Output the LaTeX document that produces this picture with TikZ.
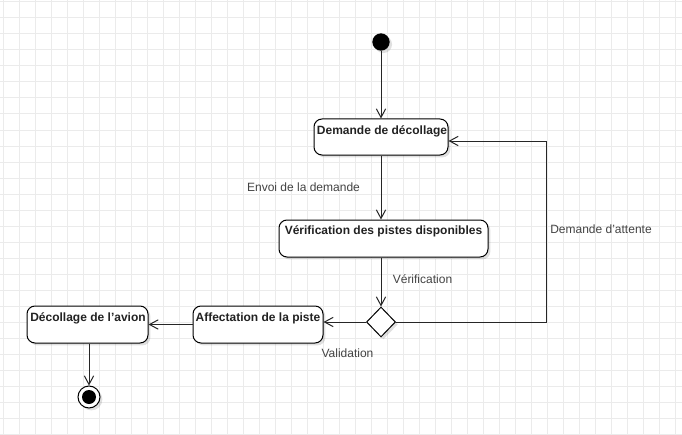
\documentclass[tikz,border=0pt]{standalone}
\usepackage{fontspec}
\setmainfont{Liberation Sans}
\usetikzlibrary{arrows.meta,shapes.geometric,shadows}
\definecolor{gridc}{HTML}{EBEBEB}
\definecolor{txt}{HTML}{222222}
\tikzset{
  x=0.75pt, y=-0.75pt,
  actbox/.style={draw=black, line width=0.75pt, rounded corners=6pt, fill=white,
    inner sep=0pt,
    drop shadow={shadow xshift=1.8pt, shadow yshift=-1.8pt, opacity=0.12, fill=black}},
  boxtext/.style={font=\bfseries\fontsize{9}{11}\selectfont, text=txt, inner sep=0pt, anchor=center},
  lbl/.style={font=\fontsize{9}{11}\selectfont, text=txt!85, inner sep=0pt, anchor=center},
  flow/.style={draw=black!85, line width=0.75pt, -{Straight Barb[length=6.5pt,width=7pt,line width=0.75pt]}},
}
\begin{document}
\begin{tikzpicture}
\useasboundingbox (0,0) rectangle (682,435);
\fill[white] (0,0) rectangle (682,435);
% grid
\foreach \gx in {3,19,...,682} \draw[gridc, line width=0.75pt] (\gx,0) -- (\gx,435);
\foreach \gy in {2,18,...,435} \draw[gridc, line width=0.75pt] (0,\gy) -- (682,\gy);

% start
\node[circle, fill=black, minimum size=13pt, inner sep=0pt,
  drop shadow={shadow xshift=1.8pt, shadow yshift=-1.8pt, opacity=0.12, fill=black}] (start) at (381,42) {};

% boxes
\node[actbox, minimum width=100.5pt, minimum height=27pt] (b1) at (381,137) {};
\node[boxtext] (b1t) at (382,131) {Demande de décollage};

\node[actbox, minimum width=156.75pt, minimum height=27.75pt] (b2) at (383.5,238.5) {};
\node[boxtext] (b2t) at (383.5,231) {Vérification des pistes disponibles};

\node[diamond, draw=black, line width=0.75pt, fill=white, minimum width=21.75pt, minimum height=22.5pt, inner sep=0pt,
  drop shadow={shadow xshift=1.8pt, shadow yshift=-1.8pt, opacity=0.12, fill=black}] (dec) at (381,322) {};

\node[actbox, minimum width=97.5pt, minimum height=27.75pt] (b3) at (258,324.5) {};
\node[boxtext] (b3t) at (258,318) {Affectation de la piste};

\node[actbox, minimum width=90.75pt, minimum height=27.75pt] (b4) at (87.5,324.5) {};
\node[boxtext] (b4t) at (88,318) {Décollage de l\symbol{39}avion};

% end
\node[circle, draw=black, line width=0.75pt, fill=white, minimum size=16.5pt, inner sep=0pt,
  drop shadow={shadow xshift=1.8pt, shadow yshift=-1.8pt, opacity=0.12, fill=black}] (end) at (89,397) {};
\node[circle, fill=black, minimum size=10.5pt, inner sep=0pt] (endin) at (89,397) {};

% connectors
\draw[flow] (start) -- (b1);
\draw[flow] (b1) -- (b2.north -| b1);
\draw[flow] (b2.south -| dec) -- (dec);
\coordinate (lp1) at (546,322);
\coordinate (lp2) at (546,141);
\draw[flow] (dec.east) -- (lp1) -- (lp2) -- (lp2 -| b1.east);
\draw[flow] (dec.west) -- (dec.west -| b3.east);
\draw[flow] (b3.west) -- (b4.east);
\draw[flow] (b4.south -| end) -- (end);

% labels
\node[lbl] (l1) at (303.5,187) {Envoi de la demande};
\node[lbl] (l2) at (422.5,279) {Vérification};
\node[lbl] (l3) at (601,229) {Demande d\symbol{39}attente};
\node[lbl] (l4) at (347.5,353) {Validation};
\end{tikzpicture}
\end{document}
